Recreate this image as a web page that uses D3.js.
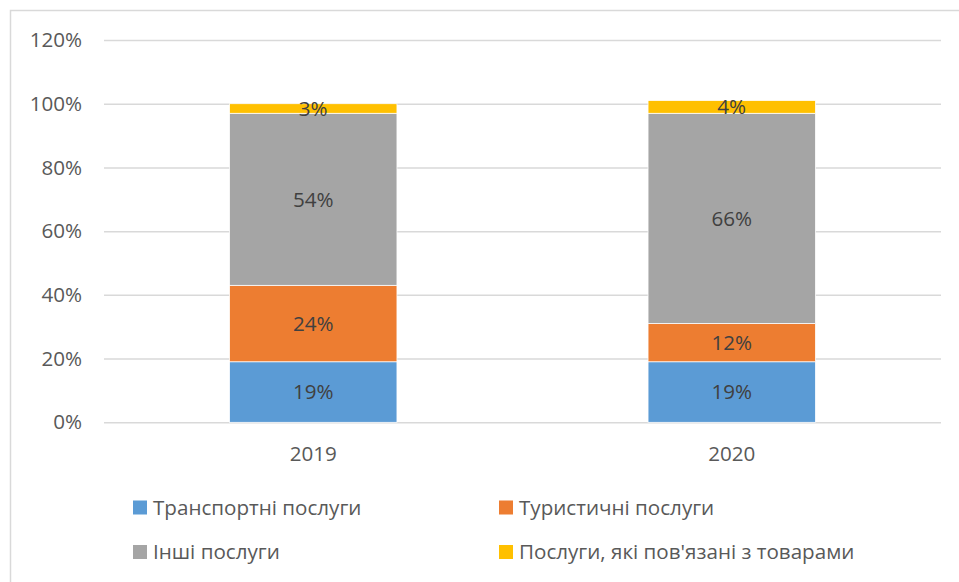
<!DOCTYPE html>
<html>
<head>
<meta charset="utf-8">
<script src="https://cdn.jsdelivr.net/npm/d3@7"></script>
<style>
  body { margin: 0; background: #fff; }
  text { font-family: "Open Sans", sans-serif; }
</style>
</head>
<body>
<svg id="chart" width="959" height="582"></svg>
<script>
const years = ["2019", "2020"]
const seriesNames = ["Транспортні послуги", "Туристичні послуги", "Інші послуги", "Послуги, які пов'язані з товарами"]
const transport = [19, 19]
const tourism = [24, 12]
const other = [54, 66]
const goods = [3, 4]
const yTicks = [0, 20, 40, 60, 80, 100, 120]

const colors = ["#5B9BD5", "#ED7D31", "#A5A5A5", "#FFC000"]
const fontSize = "20.6px"

const plot = { left: 104, right: 941, top: 40, bottom: 422.3 }

const rows = years.map((y, i) => ({
    year: y,
    s0: transport[i],
    s1: tourism[i],
    s2: other[i],
    s3: goods[i]
}))

const stack = d3.stack().keys(["s0", "s1", "s2", "s3"])
const layers = stack(rows)

const svg = d3.select("#chart")

// outer chart border (only top/left visible in the picture)
svg.append("rect")
    .attr("x", 10.5)
    .attr("y", 10.5)
    .attr("width", 1000)
    .attr("height", 1000)
    .attr("fill", "none")
    .attr("stroke", "#d9d9d9")
    .attr("stroke-width", 1.5)

const x = d3.scaleBand()
    .domain(years)
    .range([plot.left, plot.right])
    .paddingInner(0.6)
    .paddingOuter(0.3)

const y = d3.scaleLinear()
    .domain([0, 120])
    .range([plot.bottom, plot.top])

// gridlines + y labels
const yAxis = d3.axisLeft(y)
    .tickValues(yTicks)
    .tickSize(-(plot.right - plot.left))
    .tickFormat(d => d + "%")
    .tickPadding(22)

const gy = svg.append("g")
    .attr("transform", `translate(${plot.left},0)`)
    .call(yAxis)
gy.select(".domain").remove()
gy.selectAll(".tick line")
    .attr("stroke", "#d9d9d9")
    .attr("stroke-width", 1.5)
gy.selectAll(".tick text")
    .attr("fill", "#595959")
    .style("font-size", fontSize)

// bars
const groups = svg.append("g")
    .selectAll("g")
    .data(layers)
    .enter()
    .append("g")
    .attr("fill", (d, i) => colors[i])

groups.selectAll("rect")
    .data(d => d)
    .enter()
    .append("rect")
    .attr("x", d => x(d.data.year))
    .attr("width", x.bandwidth())
    .attr("y", d => y(d[1]))
    .attr("height", d => y(d[0]) - y(d[1]))
    .attr("stroke", "#fff")
    .attr("stroke-width", 0.75)

// data labels
groups.selectAll("text")
    .data(d => d.map(v => ({ v: v, val: v[1] - v[0] })))
    .enter()
    .append("text")
    .attr("x", d => x(d.v.data.year) + x.bandwidth() / 2)
    .attr("y", d => y((d.v[0] + d.v[1]) / 2))
    .attr("dy", "0.35em")
    .attr("text-anchor", "middle")
    .attr("fill", "#404040")
    .style("font-size", fontSize)
    .text(d => d.val + "%")

// x labels
svg.append("g")
    .selectAll("text")
    .data(years)
    .enter()
    .append("text")
    .attr("x", d => x(d) + x.bandwidth() / 2)
    .attr("y", 454)
    .attr("dy", "0.35em")
    .attr("text-anchor", "middle")
    .attr("fill", "#595959")
    .style("font-size", fontSize)
    .text(d => d)

// legend
const legendPos = [
    { x: 133, y: 507.5 },
    { x: 499, y: 507.5 },
    { x: 133, y: 552 },
    { x: 499, y: 552 }
]
const legend = svg.append("g")
    .selectAll("g")
    .data(seriesNames)
    .enter()
    .append("g")
    .attr("transform", (d, i) => `translate(${legendPos[i].x},${legendPos[i].y})`)

legend.append("rect")
    .attr("x", 0)
    .attr("y", -7)
    .attr("width", 14)
    .attr("height", 14)
    .attr("fill", (d, i) => colors[i])

legend.append("text")
    .attr("x", 20)
    .attr("dy", "0.35em")
    .attr("fill", "#595959")
    .style("font-size", fontSize)
    .text(d => d)
</script>
</body>
</html>
